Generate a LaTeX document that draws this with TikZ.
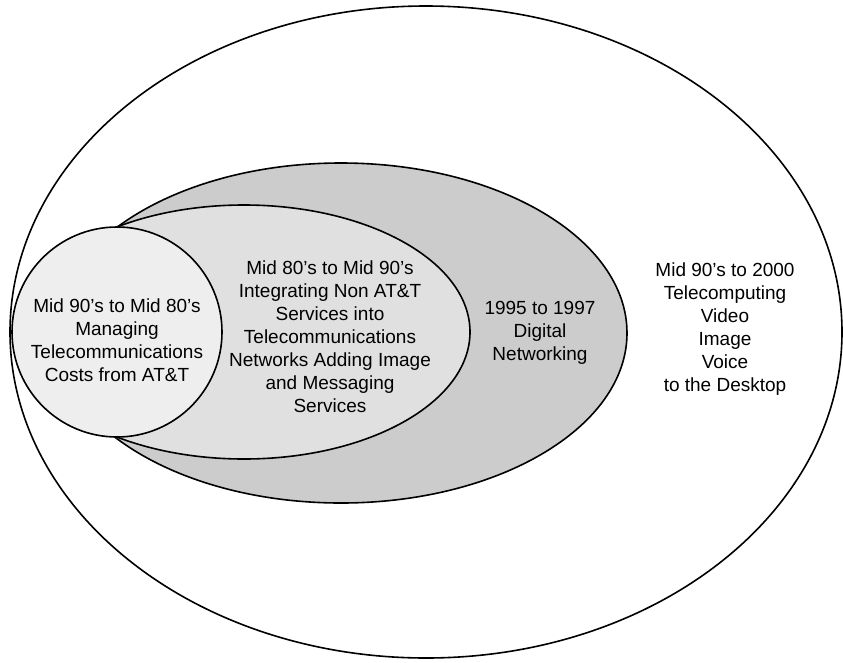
\documentclass[tikz,border=0pt]{standalone}
\usepackage{fontspec}
\setmainfont{Liberation Sans}
\usetikzlibrary{shapes.geometric}
\definecolor{darkfill}{RGB}{204,204,204}
\definecolor{midfill}{RGB}{224,224,224}
\definecolor{lightfill}{RGB}{238,238,238}
\tikzset{
  ring/.style={ellipse, draw=black, line width=1.6pt, inner sep=0pt},
  label/.style={align=center, font=\fontsize{19}{23}\selectfont, inner sep=0pt}
}
\begin{document}
\begin{tikzpicture}[x=1pt,y=-1pt]
\useasboundingbox (0,0) rectangle (843,662);
\node[ring, fill=white, minimum width=832pt, minimum height=652pt] (outer) at (426,332) {};
\node[ring, fill=darkfill, minimum width=572pt, minimum height=340pt] (dark) at (341,333) {};
\node[ring, fill=midfill, minimum width=452pt, minimum height=254pt] (mid) at (244,332) {};
\node[ring, fill=lightfill, circle, minimum size=210pt] (core) at (117,332) {};
\node[label] (tcore) at (117,340) {Mid 90’s to Mid 80’s\\Managing\\Telecommunications\\Costs from AT\&T};
\node[label] (tmid) at (330,337) {Mid 80’s to Mid 90’s\\Integrating Non AT\&T\\Services into\\Telecommunications\\Networks Adding Image\\and Messaging\\Services};
\node[label] (tdark) at (540,333) {1995 to 1997\\Digital\\Networking};
\node[label] (touter) at (725,329) {Mid 90’s to 2000\\Telecomputing\\Video\\Image\\Voice\\to the Desktop};
\end{tikzpicture}
\end{document}
